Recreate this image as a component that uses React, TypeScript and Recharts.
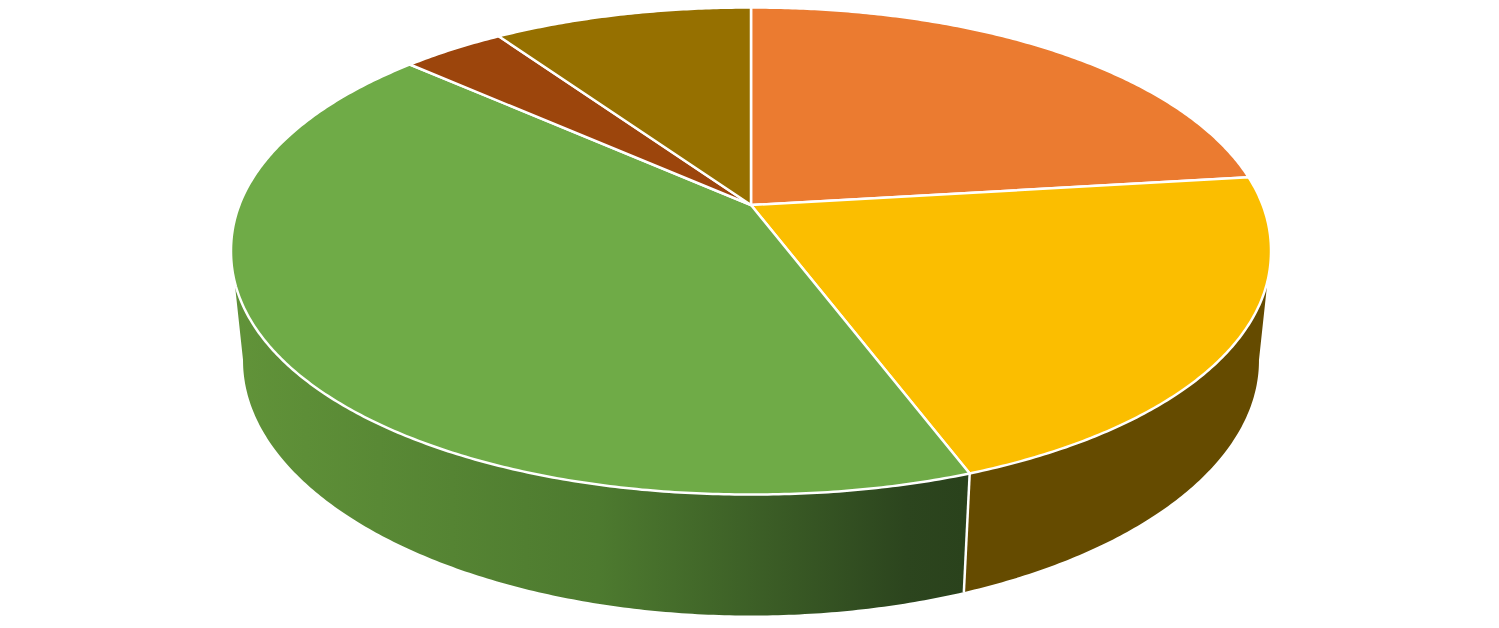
import React from "react";
import { PieChart, Pie } from "recharts";

const sliceNames = ["Slice 1", "Slice 2", "Slice 3", "Slice 4", "Slice 5"];
const sliceValues = [23.1, 21.2, 42.3, 3.8, 9.6];
const topColors = ["#EB7B30", "#FBBE00", "#6FAB47", "#9C450C", "#967000"];
const wallColors = ["#8B4A1D", "#654B00", "url(#greenWall)", "#5E2A07", "#5A4300"];

const chartData = sliceNames.map((name, i) => ({ name, value: sliceValues[i], index: i }));

const W = 1499;
const H = 628;
const CX = 751;
const CY = 205;
const RADIUS = 510.4;
const TILT = 0.4597; // vertical squash of the tilted disc
const PERSP = 0.191; // perspective strength
// ellipses of the top face and the bottom rim
const TOP_CY = 251;
const TOP_RX = 520;
const TOP_RY = 243.5;
const LOW_CY = 360;
const LOW_RX = 508;
const LOW_RY = 255;
const BULGE = 2.05; // rim is very slightly fuller than a true ellipse
// clockwise angles where the wall becomes visible
const WALL_TOP_FROM = 107.8;
const WALL_TOP_TO = 252.2;
const WALL_LOW_FROM = 100.9;
const WALL_LOW_TO = 259.1;

type P = { x: number; y: number };

function project(theta: number, cx: number, cy: number, r: number): P {
  const t = (theta * Math.PI) / 180;
  const X = Math.sin(t);
  const Y = Math.cos(t);
  const w = 1 + PERSP * Y;
  return { x: cx + (r * X) / w, y: cy - (r * TILT * Y) / w };
}

function bulge(p: P, cx: number): P {
  const u = (p.x - cx) / TOP_RX;
  const v = (p.y - TOP_CY) / TOP_RY;
  const s = Math.pow(Math.pow(Math.abs(u), BULGE) + Math.pow(Math.abs(v), BULGE), -1 / BULGE);
  return { x: cx + u * s * TOP_RX, y: TOP_CY + v * s * TOP_RY };
}

function lower(p: P, cx: number): P {
  return {
    x: cx + ((p.x - cx) * LOW_RX) / TOP_RX,
    y: LOW_CY + ((p.y - TOP_CY) * LOW_RY) / TOP_RY,
  };
}

function range(a: number, b: number): number[] {
  const out: number[] = [];
  for (let t = a; t < b; t += 0.5) out.push(t);
  out.push(b);
  return out;
}

const toPath = (pts: P[], close = true) =>
  pts.map((p, i) => `${i ? "L" : "M"}${p.x.toFixed(2)} ${p.y.toFixed(2)}`).join(" ") + (close ? " Z" : "");

function Slice3D(props: any) {
  const { cx, cy, outerRadius, startAngle, endAngle, index } = props;
  const a = 90 - startAngle;
  const b = 90 - endAngle;
  const pr = (t: number) => project(t, cx, cy, outerRadius);
  const rim = (t: number) => bulge(pr(t), cx);
  const top = [{ x: cx, y: cy }, ...range(a, b).map(rim)];

  const topA = Math.max(a, WALL_TOP_FROM);
  const topB = Math.min(b, WALL_TOP_TO);
  const lowA = Math.max(a, WALL_LOW_FROM);
  const lowB = Math.min(b, WALL_LOW_TO);
  let wall: P[] | null = null;
  if (lowB > lowA) {
    const upper = topB > topA ? range(topA, topB).map(rim) : [];
    const low = range(lowA, lowB).reverse().map((t) => lower(pr(t), cx));
    wall = [...upper, ...low];
  }
  const seam = a > WALL_TOP_FROM && a < WALL_TOP_TO;
  const sp = rim(a);
  const sl = lower(pr(a), cx);

  return (
    <g>
      {wall && <path d={toPath(wall)} fill={wallColors[index]} stroke="none" />}
      {seam && (
        <line x1={sp.x} y1={sp.y} x2={sl.x} y2={sl.y} stroke="#FFFFFF" strokeWidth={2.5} />
      )}
      <path d={toPath(top)} fill={topColors[index]} stroke="#FFFFFF" strokeWidth={2.5} strokeLinejoin="round" />
    </g>
  );
}

export default function App() {
  return (
    <div style={{ position: "absolute", left: 0, top: 0, width: W, height: H, background: "#FFFFFF" }}>
      <PieChart width={W} height={H} margin={{ top: 0, right: 0, bottom: 0, left: 0 }}>
        <defs>
          <linearGradient id="greenWall" gradientUnits="userSpaceOnUse" x1={233} y1={0} x2={965} y2={0}>
            <stop offset="0" stopColor="#619339" />
            <stop offset="0.5" stopColor="#4D7A2F" />
            <stop offset="0.92" stopColor="#2C451E" />
            <stop offset="1" stopColor="#2A421C" />
          </linearGradient>
        </defs>
        <Pie
          data={chartData}
          dataKey="value"
          nameKey="name"
          cx={CX}
          cy={CY}
          innerRadius={0}
          outerRadius={RADIUS}
          startAngle={90}
          endAngle={-270}
          paddingAngle={0}
          isAnimationActive={false}
          shape={Slice3D}
        />
      </PieChart>
    </div>
  );
}
